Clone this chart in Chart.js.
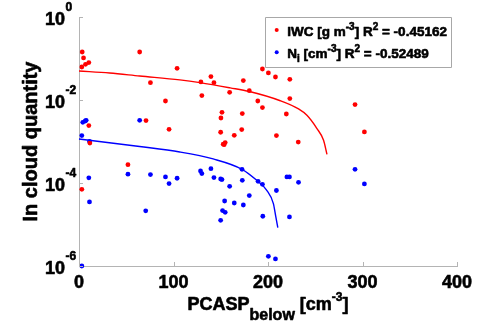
<!DOCTYPE html>
<html>
<head>
<meta charset="utf-8">
<script src="https://cdn.jsdelivr.net/npm/chart.js@4.4.0/dist/chart.umd.min.js"></script>
<style>
  html,body{margin:0;padding:0;background:#fff}
  #wrap{width:489px;height:323px;position:relative}
</style>
</head>
<body>
<div id="wrap"><canvas id="chart" width="489" height="323"></canvas></div>
<script>
// scatter data (x = PCASP below, y on log axis)
const iwcX = [3.4,4.8,6.9,10.4,3.0,64.2,103.8,75.6,91.5,70.9,10.4,95.3,11.5,194.1,200.4,207.9,223.1,139.6,129,142.8,173.9,130,159.4,180.2,189.2,194.1,223.1,151.3,150.2,172.8,219.4,149.9,164.3,172.2,208.9,152.6,154.7,153.6,232,292.1,302,51.8,3.0];
const iwcY = [0.1435,0.103,0.0724,0.0796,0.0624,0.1435,0.058,0.0262,0.00946,0.00319,0.00242,0.00197,0.00092,0.0559,0.0448,0.0358,0.0315,0.0367,0.0272,0.0262,0.0293,0.0128,0.0153,0.0168,0.00946,0.00656,0.0108,0.00506,0.00368,0.0047,0.0046,0.00167,0.00141,0.00194,0.00139,0.00086,0.00094,0.00084,0.00097,0.00774,0.0017,0.000277,0.0000705];
const niX = [4,6.6,7.6,64.2,3,11.1,10.4,11.1,51.8,75.6,70.6,91.5,95.3,103.8,3,128.6,130,139.6,142.8,149.9,151.3,159.4,172.5,172.8,189.5,194.1,208.9,180.2,154.1,164.3,173.9,151.9,154.7,149.9,194.5,220,222.7,232.3,222.7,200.4,207.9,292.1,302];
const niY = [2.9e-3,3.12e-3,3.24e-3,3.24e-3,1.39e-3,1e-3,1.33e-4,3.5e-5,1.63e-4,1.6e-4,2.14e-5,1.4e-4,9.7e-5,1.3e-4,1e-6,1.95e-4,1.69e-4,2.22e-4,1.35e-4,1.25e-4,1.21e-4,8.3e-5,2.14e-4,1.16e-4,1.1e-4,9.3e-5,6.6e-5,4.97e-5,3.68e-5,3.3e-5,2.95e-5,2.16e-5,1.97e-5,1.26e-5,1.58e-5,1.4e-4,1.4e-4,1.04e-4,1.52e-5,1.71e-6,1.48e-6,2.14e-4,9.5e-5];

// fit curves
const iwcFitX = [0,32.4,64.2,106.7,128,160,180.3,213,232.3,241.2,251.8,258.8,262.4];
const iwcFitY = [0.05,0.0447,0.0378,0.0305,0.0262,0.0196,0.016,0.0096,0.0061,0.00428,0.00205,0.00107,0.00049];
const niFitX = [0,64.2,106.7,142,172.5,188.1,198.7,205.7,208.3,210.4];
const niFitY = [1.15e-3,7.6e-4,5.6e-4,3.8e-4,2.14e-4,1.16e-4,6.67e-5,3.19e-5,1.52e-5,8.4e-6];

// axis ticks and legend text
const xTicks = [0,100,200,300,400];
const yTicks = [1,1e-2,1e-4,1e-6];
const yExp = ['0','-2','-4','-6'];
const r2 = ['-0.45162','-0.52489'];

const RED = '#ff0000', BLUE = '#0000ff', AXIS = '#b4b4b4';
const FONT = 'Arial, "Liberation Sans", sans-serif';

const pts = (xs, ys) => xs.map((x, i) => ({x, y: ys[i]}));

// draw a run of text pieces: [text, size, dy]; thin stroke gives the heavy look
function rich(ctx, parts, x, y, align){
  let w = 0;
  parts.forEach(p => { ctx.font = 'bold ' + p[1] + 'px ' + FONT; w += ctx.measureText(p[0]).width; });
  let cx = align === 'center' ? x - w/2 : align === 'right' ? x - w : x;
  ctx.textAlign = 'left';
  ctx.strokeStyle = ctx.fillStyle; ctx.lineWidth = 0.6; ctx.lineJoin = 'round';
  parts.forEach(p => {
    ctx.font = 'bold ' + p[1] + 'px ' + FONT;
    ctx.fillText(p[0], cx, y + p[2]);
    ctx.strokeText(p[0], cx, y + p[2]);
    cx += ctx.measureText(p[0]).width;
  });
}

const decor = {
  id: 'decor',
  afterDraw(chart){
    const ctx = chart.ctx, xs = chart.scales.x, ys = chart.scales.y, a = chart.chartArea;
    ctx.save();
    // inward tick marks
    ctx.strokeStyle = AXIS; ctx.lineWidth = 1;
    ctx.beginPath();
    xTicks.forEach(v => { const px = Math.round(xs.getPixelForValue(v)) + 0.5; ctx.moveTo(px, a.bottom); ctx.lineTo(px, a.bottom - 4); });
    yTicks.forEach(v => { const py = Math.round(ys.getPixelForValue(v)) + 0.5; ctx.moveTo(a.left, py); ctx.lineTo(a.left + 4, py); });
    ctx.stroke();

    ctx.fillStyle = '#000'; ctx.textBaseline = 'alphabetic';
    // x tick labels
    xTicks.forEach(v => rich(ctx, [[String(v), 18, 0]], xs.getPixelForValue(v), 288, 'center'));
    // y tick labels 10^n
    yTicks.forEach((v, i) => {
      const py = ys.getPixelForValue(v);
      rich(ctx, [['10', 18, 0]], 65, py + 7.5, 'right');
      rich(ctx, [[yExp[i], 12, 0]], 65.5, py - 6, 'left');
    });
    // x title
    rich(ctx, [['PCASP', 18, 0], ['below', 16, 10], [' [cm', 18, 0], ['-3', 12, -9], [']', 18, 0]], 268, 310, 'center');
    // y title
    ctx.save();
    ctx.translate(37, 141.5); ctx.rotate(-Math.PI/2);
    rich(ctx, [['In cloud quantity', 20, 0]], 0, 0, 'center');
    ctx.restore();

    // legend
    ctx.fillStyle = '#fff'; ctx.fillRect(265.5, 17.5, 186, 50);
    ctx.strokeStyle = '#a8a8a8'; ctx.lineWidth = 1; ctx.strokeRect(265.5, 17.5, 186, 50);
    [[RED, 30], [BLUE, 52.3]].forEach(d => {
      ctx.fillStyle = d[0]; ctx.beginPath(); ctx.arc(276.7, d[1], 2, 0, Math.PI*2); ctx.fill();
    });
    ctx.fillStyle = '#000';
    rich(ctx, [['IWC [g m', 13.5, 0], ['-3', 10, -6], ['] R', 13.5, 0], ['2', 10, -6], [' = ' + r2[0], 13.5, 0]], 287.3, 36, 'left');
    rich(ctx, [['N', 13.5, 0], ['i', 10, 4], [' [cm', 13.5, 0], ['-3', 10, -6], ['] R', 13.5, 0], ['2', 10, -6], [' = ' + r2[1], 13.5, 0]], 287.3, 58.3, 'left');
    ctx.restore();
  }
};

const axisBase = {
  grid: {display: true, drawOnChartArea: false, drawTicks: false},
  border: {display: true, color: AXIS, width: 1},
  ticks: {display: false}
};

new Chart(document.getElementById('chart'), {
  type: 'scatter',
  data: {
    datasets: [
      {type: 'line', data: pts(iwcFitX, iwcFitY), borderColor: RED, borderWidth: 1.4, pointRadius: 0, cubicInterpolationMode: 'monotone', fill: false, clip: false},
      {type: 'line', data: pts(niFitX, niFitY), borderColor: BLUE, borderWidth: 1.4, pointRadius: 0, cubicInterpolationMode: 'monotone', fill: false, clip: false},
      {data: pts(iwcX, iwcY), backgroundColor: RED, borderWidth: 0, pointRadius: 2.4, clip: false},
      {data: pts(niX, niY), backgroundColor: BLUE, borderWidth: 0, pointRadius: 2.4, clip: false}
    ]
  },
  options: {
    responsive: false,
    animation: false,
    layout: {padding: {left: 79, right: 32, top: 17, bottom: 57}},
    plugins: {legend: {display: false}, tooltip: {enabled: false}},
    scales: {
      x: Object.assign({type: 'linear', min: 0, max: 400}, axisBase),
      y: Object.assign({type: 'logarithmic', min: 1e-6, max: 1}, axisBase)
    }
  },
  plugins: [decor]
});
</script>
</body>
</html>
